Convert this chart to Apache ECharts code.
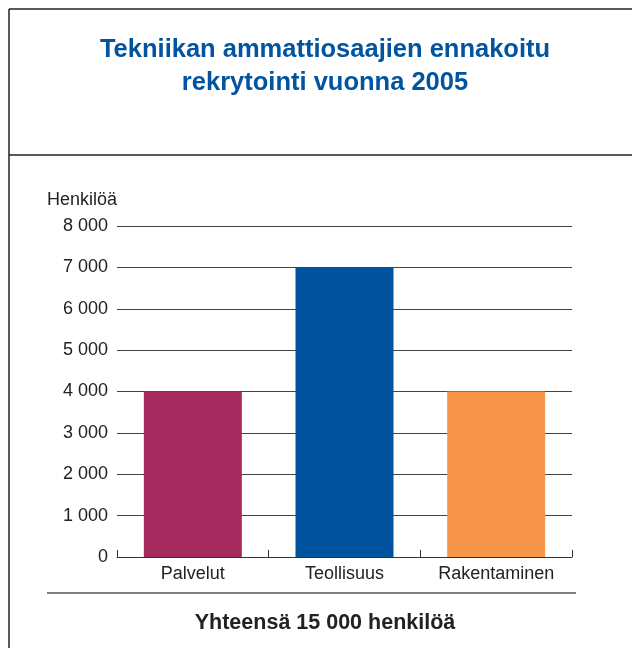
<!DOCTYPE html>
<html><head><meta charset="utf-8">
<script src="https://cdn.jsdelivr.net/npm/echarts@6/dist/echarts.min.js"></script>
<style>html,body{margin:0;padding:0;background:#fff}#c{width:632px;height:648px}</style>
</head><body><div id="c"></div>
<script>
const categories = ['Palvelut', 'Teollisuus', 'Rakentaminen'];
const values = [4000, 7000, 4000];
const barColors = ['#A6295E', '#00549F', '#F7964A'];
const titleLines = ['Tekniikan ammattiosaajien ennakoitu', 'rekrytointi vuonna 2005'];
const yAxisName = 'Henkilöä';
const totalText = 'Yhteensä 15 000 henkilöä';

const chart = echarts.init(document.getElementById('c'), null, {renderer: 'canvas'});
const font = 'Liberation Sans, Arial, Helvetica, sans-serif';
chart.setOption({
  animation: false,
  textStyle: {fontFamily: font},
  title: {
    text: titleLines.join('\n'),
    left: 320, top: 28, textAlign: 'center',
    textStyle: {color: '#0054A0', fontSize: 25.5, fontWeight: 'bold', lineHeight: 33, fontFamily: font}
  },
  grid: {left: 117, right: 60, top: 226, bottom: 91, containLabel: false},
  xAxis: {
    type: 'category', data: categories,
    axisLine: {lineStyle: {color: '#333', width: 1}},
    axisTick: {show: true, inside: true, length: 7, lineStyle: {color: '#333'}},
    axisLabel: {color: '#222', fontSize: 18, margin: 8, fontFamily: font}
  },
  yAxis: {
    type: 'value', min: 0, max: 8000, interval: 1000,
    name: yAxisName, nameLocation: 'end', nameGap: 17,
    nameTextStyle: {color: '#222', fontSize: 18, align: 'left', padding: [0, 0, 0, -70], fontFamily: font},
    axisLine: {show: false}, axisTick: {show: false},
    splitLine: {lineStyle: {color: '#444', width: 1}},
    axisLabel: {color: '#222', fontSize: 18, margin: 9, fontFamily: font,
      formatter: v => v === 0 ? '0' : String(v).replace(/\B(?=(\d{3})+(?!\d))/g, ' ')}
  },
  series: [{
    type: 'bar', barWidth: 98,
    data: values.map((v, i) => ({value: v, itemStyle: {color: barColors[i]}}))
  }],
  graphic: [
    {type: 'line', shape: {x1: 9, y1: 9, x2: 632, y2: 9}, style: {stroke: '#222', lineWidth: 1.5}},
    {type: 'line', shape: {x1: 9, y1: 9, x2: 9, y2: 648}, style: {stroke: '#222', lineWidth: 1.5}},
    {type: 'line', shape: {x1: 9, y1: 155, x2: 632, y2: 155}, style: {stroke: '#222', lineWidth: 1.5}},
    {type: 'line', shape: {x1: 47, y1: 593, x2: 576, y2: 593}, style: {stroke: '#555', lineWidth: 1.5}},
    {type: 'text', x: 325, y: 623,
     style: {text: totalText, fill: '#222', font: 'bold 21.5px ' + font, align: 'center', verticalAlign: 'middle'}}
  ]
});
</script></body></html>
